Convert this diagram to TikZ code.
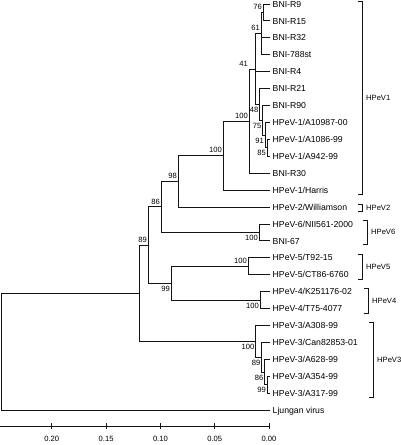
\documentclass[tikz,border=0pt]{standalone}
\usepackage{fontspec}
\setmainfont{Liberation Sans}
\tikzstyle{leaf}=[anchor=west,inner xsep=2.5pt,inner ysep=0pt,text height=6.2pt,text depth=0pt,font=\fontsize{8.7}{10}\selectfont]
\tikzstyle{boot}=[inner xsep=1pt,inner ysep=2.5pt,font=\fontsize{7.6}{9}\selectfont]
\tikzstyle{clade}=[anchor=west,inner sep=0pt,font=\fontsize{7.6}{9}\selectfont]
\tikzstyle{scalelbl}=[inner sep=0pt,font=\fontsize{7.6}{9}\selectfont]
\tikzstyle{branch}=[line width=0.9pt,color={rgb,255:red,20;green,20;blue,20}]

\begin{document}
\begin{tikzpicture}[x=1pt,y=1pt,yscale=-1,xscale=1]
\useasboundingbox (0,0) rectangle (400,445);

% Leaves
\node[leaf] (l1) at (270,4) {BNI-R9};
\node[leaf] (l2) at (270,20.9) {BNI-R15};
\node[leaf] (l3) at (270,37.8) {BNI-R32};
\node[leaf] (l4) at (270,54.8) {BNI-788st};
\node[leaf] (l5) at (270,71.7) {BNI-R4};
\node[leaf] (l6) at (270,88.6) {BNI-R21};
\node[leaf] (l7) at (270,105.5) {BNI-R90};
\node[leaf] (l8) at (270,122.4) {HPeV-1/A10987-00};
\node[leaf] (l9) at (270,139.4) {HPeV-1/A1086-99};
\node[leaf] (l10) at (270,156.3) {HPeV-1/A942-99};
\node[leaf] (l11) at (270,173.2) {BNI-R30};
\node[leaf] (l12) at (270,190.1) {HPeV-1/Harris};
\node[leaf] (l13) at (270,207.0) {HPeV-2/Williamson};
\node[leaf] (l14) at (270,224.0) {HPeV-6/NII561-2000};
\node[leaf] (l15) at (270,240.9) {BNI-67};
\node[leaf] (l16) at (270,257.8) {HPeV-5/T92-15};
\node[leaf] (l17) at (270,274.7) {HPeV-5/CT86-6760};
\node[leaf] (l18) at (270,291.6) {HPeV-4/K251176-02};
\node[leaf] (l19) at (270,308.6) {HPeV-4/T75-4077};
\node[leaf] (l20) at (270,325.5) {HPeV-3/A308-99};
\node[leaf] (l21) at (270,342.4) {HPeV-3/Can82853-01};
\node[leaf] (l22) at (270,359.3) {HPeV-3/A628-99};
\node[leaf] (l23) at (270,376.2) {HPeV-3/A354-99};
\node[leaf] (l24) at (270,393.2) {HPeV-3/A317-99};
\node[leaf] (l25) at (270,410.1) {Ljungan virus};

% Internal nodes
\coordinate (n76) at (263,12.5);
\coordinate (n61) at (261,33.6);
\coordinate (n85) at (267,147.8);
\coordinate (n91) at (265,135.1);
\coordinate (n75) at (262.5,120.3);
\coordinate (n48) at (259.5,104.5);
\coordinate (n41) at (255,69.0);
\coordinate (n100b) at (249,121.1);
\coordinate (n100a) at (223,155.6);
\coordinate (n98) at (178,181.3);
\coordinate (nhpev6) at (259,232.4);
\coordinate (n86) at (161,206.9);
\coordinate (nhpev5) at (248,266.3);
\coordinate (nhpev4) at (260,300.1);
\coordinate (n99) at (171,283.2);
\coordinate (n89) at (148,245.1);
\coordinate (n99b) at (267,384.7);
\coordinate (n86b) at (264.5,372.0);
\coordinate (n89b) at (261.5,357.2);
\coordinate (n100c) at (255.5,341.4);
\coordinate (ntop) at (139.5,293.2);
\coordinate (root) at (1,351.7);

% Branches
\draw[branch] (n76) |- (l1.west) (n76) |- (l2.west);
\draw[branch] (n61) |- (n76) (n61) |- (l3.west) (n61) |- (l4.west);
\draw[branch] (n85) |- (l9.west) (n85) |- (l10.west);
\draw[branch] (n91) |- (l8.west) (n91) |- (n85);
\draw[branch] (n75) |- (l7.west) (n75) |- (n91);
\draw[branch] (n48) |- (l6.west) (n48) |- (n75);
\draw[branch] (n41) |- (n61) (n41) |- (l5.west) (n41) |- (n48);
\draw[branch] (n100b) |- (n41) (n100b) |- (l11.west);
\draw[branch] (n100a) |- (n100b) (n100a) |- (l12.west);
\draw[branch] (n98) |- (n100a) (n98) |- (l13.west);
\draw[branch] (nhpev6) |- (l14.west) (nhpev6) |- (l15.west);
\draw[branch] (n86) |- (n98) (n86) |- (nhpev6);
\draw[branch] (nhpev5) |- (l16.west) (nhpev5) |- (l17.west);
\draw[branch] (nhpev4) |- (l18.west) (nhpev4) |- (l19.west);
\draw[branch] (n99) |- (nhpev5) (n99) |- (nhpev4);
\draw[branch] (n89) |- (n86) (n89) |- (n99);
\draw[branch] (n99b) |- (l23.west) (n99b) |- (l24.west);
\draw[branch] (n86b) |- (l22.west) (n86b) |- (n99b);
\draw[branch] (n89b) |- (l21.west) (n89b) |- (n86b);
\draw[branch] (n100c) |- (l20.west) (n100c) |- (n89b);
\draw[branch] (ntop) |- (n89) (ntop) |- (n100c);
\draw[branch] (root) |- (ntop) (root) |- (l25.west);

% Bootstrap values
\node[boot,anchor=south east] (b76) at (n76) {76};
\node[boot,anchor=south east] (b61) at (n61) {61};
\node[boot,anchor=south east,xshift=-6pt] (b41) at (n41) {41};
\node[boot,anchor=north east] (b48) at (n48) {48};
\node[boot,anchor=north east] (b75) at (n75) {75};
\node[boot,anchor=north east] (b91) at (n91) {91};
\node[boot,anchor=north east] (b85) at (n85) {85};
\node[boot,anchor=south east] (b100b) at (n100b) {100};
\node[boot,anchor=south east] (b100a) at (n100a) {100};
\node[boot,anchor=south east] (b98) at (n98) {98};
\node[boot,anchor=south east] (b86) at (n86) {86};
\node[boot,anchor=south east] (b89) at (n89) {89};
\node[boot,anchor=north east] (bhpev6) at (nhpev6) {100};
\node[boot,anchor=south east] (bhpev5) at (nhpev5) {100};
\node[boot,anchor=north east] (b99) at (n99) {99};
\node[boot,anchor=north east] (bhpev4) at (nhpev4) {100};
\node[boot,anchor=north east] (b100c) at (n100c) {100};
\node[boot,anchor=north east] (b89b) at (n89b) {89};
\node[boot,anchor=north east] (b86b) at (n86b) {86};
\node[boot,anchor=north east] (b99b) at (n99b) {99};

% Clade brackets
\draw[branch] (358,1) -- (362,1) -- (362,194) -- (358,194);
\node[clade] (c1) at (366,97.5) {HPeV1};
\draw[branch] (358,204) -- (362,204) -- (362,211) -- (358,211);
\node[clade] (c2) at (366,207.5) {HPeV2};
\draw[branch] (363,220) -- (367,220) -- (367,244) -- (363,244);
\node[clade] (c6) at (371,232) {HPeV6};
\draw[branch] (358,254) -- (362,254) -- (362,279) -- (358,279);
\node[clade] (c5) at (366,266.5) {HPeV5};
\draw[branch] (364,288) -- (368,288) -- (368,313) -- (364,313);
\node[clade] (c4) at (372,300.5) {HPeV4};
\draw[branch] (369,322) -- (373,322) -- (373,397) -- (369,397);
\node[clade] (c3) at (377,359.5) {HPeV3};

% Scale axis
\draw[branch] (0,426) -- (269,426);
\draw[branch] (269,423) -- (269,429);
\draw[branch] (214.7,423) -- (214.7,429);
\draw[branch] (160.4,423) -- (160.4,429);
\draw[branch] (106.1,423) -- (106.1,429);
\draw[branch] (51.8,423) -- (51.8,429);
\node[scalelbl] (t0) at (269,439) {0.00};
\node[scalelbl] (t1) at (214.7,439) {0.05};
\node[scalelbl] (t2) at (160.4,439) {0.10};
\node[scalelbl] (t3) at (106.1,439) {0.15};
\node[scalelbl] (t4) at (51.8,439) {0.20};

\end{tikzpicture}
\end{document}
